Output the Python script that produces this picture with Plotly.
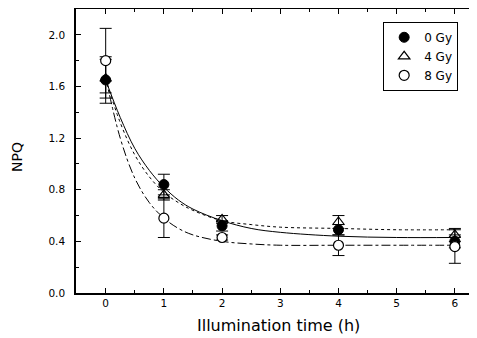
import plotly.graph_objects as go

# ---- measured data ----
time_h = [0, 1, 2, 4, 6]
npq_0gy = [1.65, 0.84, 0.52, 0.49, 0.40]
err_0gy = [0.18, 0.08, 0.04, 0.04, 0.05]
npq_4gy = [1.66, 0.76, 0.57, 0.55, 0.45]
err_4gy = [0.15, 0.04, 0.03, 0.05, 0.05]
npq_8gy = [1.80, 0.58, 0.43, 0.37, 0.36]
err_8gy = [0.25, 0.15, 0.02, 0.08, 0.13]

# ---- fitted curves ----
fit_t = [0, 0.25, 0.5, 0.75, 1, 1.25, 1.5, 2, 2.5, 3, 4, 5, 6]
fit_0gy = [1.65, 1.36, 1.12, 0.95, 0.82, 0.72, 0.65, 0.56, 0.50, 0.47, 0.44, 0.43, 0.43]
fit_4gy = [1.66, 1.32, 1.07, 0.90, 0.78, 0.70, 0.64, 0.56, 0.53, 0.51, 0.50, 0.49, 0.49]
fit_8gy = [1.67, 1.20, 0.89, 0.70, 0.58, 0.50, 0.45, 0.40, 0.38, 0.37, 0.37, 0.37, 0.37]

x_ticks = [0, 1, 2, 3, 4, 5, 6]
y_ticks = [0.0, 0.4, 0.8, 1.2, 1.6, 2.0]
y_tick_labels = ["0.0", "0.4", "0.8", "1.2", "1.6", "2.0"]
labels = ["0 Gy", "4 Gy", "8 Gy"]

FONT = "DejaVu Sans, Liberation Sans, Arial, sans-serif"

fig = go.Figure()

fig.add_trace(go.Scatter(x=fit_t, y=fit_0gy, mode="lines", line=dict(color="black", width=1, dash="solid", shape="spline"), showlegend=False, hoverinfo="skip"))
fig.add_trace(go.Scatter(x=fit_t, y=fit_4gy, mode="lines", line=dict(color="black", width=1, dash="dot", shape="spline"), showlegend=False, hoverinfo="skip"))
fig.add_trace(go.Scatter(x=fit_t, y=fit_8gy, mode="lines", line=dict(color="black", width=1, dash="dashdot", shape="spline"), showlegend=False, hoverinfo="skip"))

eb = dict(type="data", color="black", thickness=1, width=6)

fig.add_trace(go.Scatter(x=time_h, y=npq_0gy, mode="markers", name=labels[0],
                         marker=dict(symbol="circle", size=10, color="black", line=dict(color="black", width=1)),
                         error_y=dict(array=err_0gy, **eb)))
fig.add_trace(go.Scatter(x=time_h, y=npq_4gy, mode="markers", name=labels[1],
                         marker=dict(symbol="triangle-up-open", size=10, color="black", line=dict(color="black", width=1.2)),
                         error_y=dict(array=err_4gy, **eb)))
fig.add_trace(go.Scatter(x=time_h, y=npq_8gy, mode="markers", name=labels[2],
                         marker=dict(symbol="circle", size=10, color="white", line=dict(color="black", width=1.2)),
                         error_y=dict(array=err_8gy, **eb)))

axis_common = dict(showgrid=False, zeroline=False, showline=True, linecolor="black", linewidth=1.5,
                   ticks="inside", tickcolor="black", ticklen=5, tickwidth=1,
                   tickfont=dict(family=FONT, size=10.5, color="black"))

fig.update_xaxes(range=[-0.51, 6.38], tickvals=x_ticks, ticktext=[str(v) for v in x_ticks],
                 minor=dict(dtick=0.5, tick0=0, ticks="inside", ticklen=3, tickcolor="black"),
                 mirror="ticks", **axis_common)
fig.update_yaxes(range=[0, 2.2], tickvals=y_ticks, ticktext=y_tick_labels,
                 minor=dict(dtick=0.2, tick0=0, ticks="inside", ticklen=3, tickcolor="black"),
                 ticklabelstandoff=7, mirror=False,
                 **axis_common)

# the page body has an 8px default margin, so the figure is kept 8px smaller than the window
fig.update_layout(
    width=469, height=330,
    margin=dict(l=68, r=0, t=1, b=45),
    paper_bgcolor="white", plot_bgcolor="white",
    font=dict(family=FONT, size=11, color="black"),
    legend=dict(x=0.766, y=0.955, xanchor="left", yanchor="top", bgcolor="white",
                bordercolor="black", borderwidth=1, font=dict(family=FONT, size=12),
                itemwidth=30, tracegroupgap=0),
    annotations=[
        dict(text="Illumination time (h)", xref="paper", yref="paper", x=0.504, y=-0.116,
             xanchor="center", yanchor="middle", showarrow=False, font=dict(family=FONT, size=16)),
        dict(text="NPQ", xref="paper", yref="paper", x=-0.147, y=0.479, textangle=-90,
             xanchor="center", yanchor="middle", showarrow=False, font=dict(family=FONT, size=14)),
    ],
)

fig.write_html("out.html")
